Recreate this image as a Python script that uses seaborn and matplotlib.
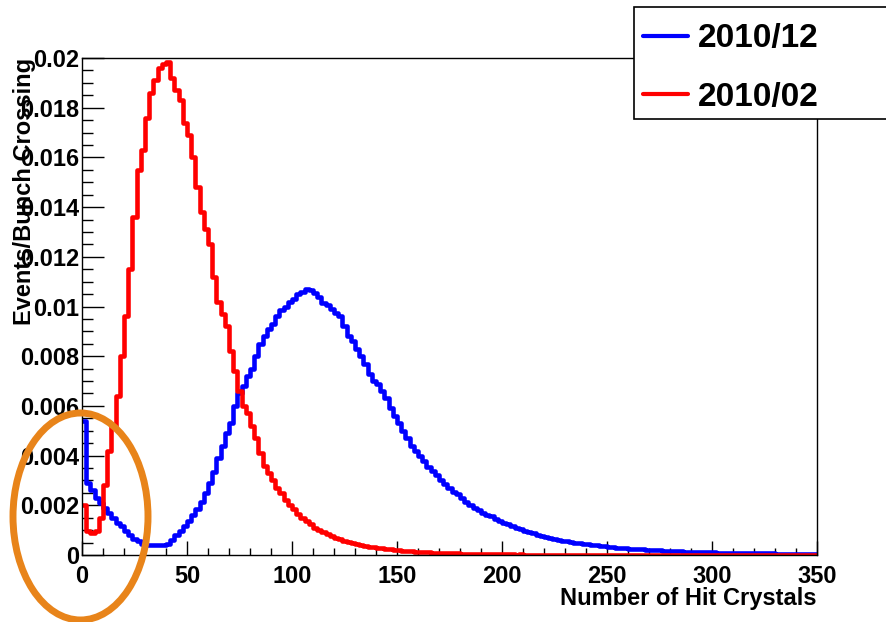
import numpy as np
import pandas as pd
import matplotlib
matplotlib.use("Agg")
import matplotlib.pyplot as plt
from matplotlib.patches import Rectangle, Ellipse
from matplotlib.ticker import MultipleLocator, FuncFormatter
import seaborn as sns

# ---------------- data ----------------
bin_width = 2
x_range = (0, 350)
bin_centers = np.arange(x_range[0] + bin_width / 2, x_range[1], bin_width)

series_labels = ["2010/12", "2010/02"]
series_colors = ["#0000FF", "#FF0000"]

feb_2010 = [
    0.00200, 0.00095, 0.00090, 0.00098, 0.00150, 0.00280, 0.00420, 0.00520, 0.00640, 0.00800,
    0.00960, 0.01150, 0.01360, 0.01550, 0.01630, 0.01760, 0.01860, 0.01910, 0.01960, 0.01975,
    0.01985, 0.01920, 0.01870, 0.01830, 0.01740, 0.01690, 0.01600, 0.01480, 0.01380, 0.01310,
    0.01250, 0.01120, 0.01020, 0.00970, 0.00920, 0.00820, 0.00740, 0.00660, 0.00600, 0.00570,
    0.00520, 0.00470, 0.00410, 0.00360, 0.00330, 0.00300, 0.00270, 0.00250, 0.00220, 0.00200,
    0.00185, 0.00165, 0.00150, 0.00135, 0.00125, 0.00110, 0.00100, 0.00092, 0.00085, 0.00078,
    0.00070, 0.00064, 0.00058, 0.00053, 0.00050, 0.00045, 0.00042, 0.00038, 0.00034, 0.00031,
    0.00029, 0.00027, 0.00025, 0.00023, 0.00021, 0.00020, 0.00018, 0.00017, 0.00016, 0.00014,
    0.00013, 0.00012, 0.00011, 0.00010, 0.00010, 0.00009, 0.00008, 0.00008, 0.00007, 0.00007,
    0.00006, 0.00006, 0.00005, 0.00005, 0.00005, 0.00004, 0.00004, 0.00004, 0.00003, 0.00003,
    0.00003, 0.00003, 0.00003, 0.00002, 0.00003, 0.00002, 0.00002, 0.00002, 0.00002, 0.00002,
    0.00002, 0.00002, 0.00001, 0.00002, 0.00001, 0.00002, 0.00001, 0.00001, 0.00001, 0.00001,
    0.00001, 0.00001, 0.00001, 0.00001, 0.00001, 0.00001, 0.00001, 0.00001, 0.00001, 0.00001,
    0.00001, 0.00001, 0.00001, 0.00001, 0.00001, 0.00001, 0.00001, 0.00001, 0.00001, 0.00001,
    0.00001, 0.00001, 0.00001, 0.00001, 0.00001, 0.00001, 0.00001, 0.00001, 0.00001, 0.00001,
    0.00001, 0.00001, 0.00001, 0.00001, 0.00001, 0.00001, 0.00001, 0.00001, 0.00001, 0.00001,
    0.00001, 0.00001, 0.00001, 0.00001, 0.00001, 0.00001, 0.00001, 0.00001, 0.00001, 0.00001,
    0.00001, 0.00001, 0.00001, 0.00001, 0.00001,
]

dec_2010 = [
    0.00540, 0.00290, 0.00260, 0.00230, 0.00210, 0.00190, 0.00170, 0.00150, 0.00130, 0.00115,
    0.00095, 0.00080, 0.00065, 0.00055, 0.00045, 0.00042, 0.00040, 0.00040, 0.00042, 0.00040,
    0.00045, 0.00060, 0.00080, 0.00095, 0.00115, 0.00135, 0.00160, 0.00185, 0.00215, 0.00250,
    0.00290, 0.00335, 0.00390, 0.00440, 0.00490, 0.00530, 0.00600, 0.00650, 0.00680, 0.00720,
    0.00750, 0.00800, 0.00850, 0.00880, 0.00910, 0.00930, 0.00960, 0.00985, 0.01000, 0.01020,
    0.01030, 0.01050, 0.01060, 0.01070, 0.01065, 0.01055, 0.01040, 0.01015, 0.01005, 0.00990,
    0.00975, 0.00960, 0.00920, 0.00880, 0.00860, 0.00830, 0.00800, 0.00770, 0.00730, 0.00700,
    0.00690, 0.00660, 0.00630, 0.00590, 0.00560, 0.00530, 0.00500, 0.00470, 0.00440, 0.00420,
    0.00400, 0.00380, 0.00355, 0.00340, 0.00320, 0.00300, 0.00285, 0.00270, 0.00255, 0.00245,
    0.00230, 0.00215, 0.00200, 0.00190, 0.00180, 0.00170, 0.00160, 0.00155, 0.00145, 0.00138,
    0.00130, 0.00123, 0.00117, 0.00110, 0.00103, 0.00098, 0.00093, 0.00088, 0.00082, 0.00078,
    0.00073, 0.00068, 0.00065, 0.00062, 0.00058, 0.00055, 0.00052, 0.00050, 0.00047, 0.00045,
    0.00043, 0.00041, 0.00039, 0.00037, 0.00035, 0.00033, 0.00032, 0.00030, 0.00029, 0.00027,
    0.00026, 0.00025, 0.00024, 0.00023, 0.00022, 0.00021, 0.00020, 0.00019, 0.00018, 0.00017,
    0.00016, 0.00016, 0.00015, 0.00014, 0.00014, 0.00013, 0.00013, 0.00012, 0.00012, 0.00011,
    0.00011, 0.00010, 0.00010, 0.00010, 0.00009, 0.00009, 0.00009, 0.00008, 0.00008, 0.00008,
    0.00008, 0.00007, 0.00007, 0.00007, 0.00007, 0.00006, 0.00006, 0.00006, 0.00006, 0.00006,
    0.00005, 0.00005, 0.00005, 0.00005, 0.00005,
]

x_label = "Number of Hit Crystals"
y_label = "Events/Bunch Crossing"

# ---------------- plot ----------------
sns.set_theme(style="white")
plt.rcParams["font.family"] = ["Liberation Sans", "DejaVu Sans"]
plt.rcParams["font.weight"] = "bold"
plt.rcParams["text.color"] = "black"
plt.rcParams["axes.labelcolor"] = "black"
plt.rcParams["xtick.color"] = "black"
plt.rcParams["ytick.color"] = "black"

W, H = 887, 622
fig = plt.figure(figsize=(W / 100, H / 100), dpi=100)
ax = fig.add_axes([82 / W, 1 - 555 / H, (817 - 82) / W, (555 - 58) / H])

for vals, lab, col in zip([dec_2010, feb_2010], series_labels, series_colors):
    df = pd.DataFrame({"x": bin_centers, "w": vals})
    sns.histplot(data=df, x="x", weights="w", binwidth=bin_width, binrange=x_range,
                 element="step", fill=False, color=col, linewidth=3.3, ax=ax, label=lab)

ax.set_xlim(*x_range)
ax.set_ylim(0, 0.02)

for sp in ax.spines.values():
    sp.set_color("black")
    sp.set_linewidth(1.0)
    sp.set_visible(True)

ax.xaxis.set_major_locator(MultipleLocator(50))
ax.xaxis.set_minor_locator(MultipleLocator(10))
ax.yaxis.set_major_locator(MultipleLocator(0.002))
ax.yaxis.set_minor_locator(MultipleLocator(0.0005))
ax.yaxis.set_major_formatter(FuncFormatter(lambda v, p: "%g" % round(v, 6)))
ax.xaxis.set_major_formatter(FuncFormatter(lambda v, p: "%g" % v))

ax.tick_params(axis="x", which="major", direction="in", length=10, width=1,
               color="black", labelsize=17, pad=7, bottom=True, top=False)
ax.tick_params(axis="x", which="minor", direction="in", length=5, width=1,
               color="black", bottom=True, top=False)
ax.tick_params(axis="y", which="major", direction="in", length=16, width=1,
               color="black", labelsize=17, pad=2, left=True, right=False)
ax.tick_params(axis="y", which="minor", direction="in", length=8, width=1,
               color="black", left=True, right=False)
for t in ax.get_xticklabels() + ax.get_yticklabels():
    t.set_fontweight("bold")
    t.set_color("black")

ax.set_xlabel(x_label, fontsize=17, fontweight="bold", color="black",
              ha="right", va="center")
ax.xaxis.set_label_coords(1.0, -0.087)
ax.set_ylabel(y_label, fontsize=17, fontweight="bold", color="black",
              ha="right", va="center")
ax.yaxis.set_label_coords(-0.078, 1.0)
ax.grid(False)

# legend box (extends beyond the right edge as in the reference)
fig.patches.append(Rectangle((634 / W, 1 - 119 / H), 270 / W, 112 / H,
                             transform=fig.transFigure, facecolor="white",
                             edgecolor="black", linewidth=1.2, zorder=4))
handles, labels = ax.get_legend_handles_labels()
leg = fig.legend(handles, labels, loc="upper left",
                 bbox_to_anchor=(643 / W, 1 - 23.5 / H), frameon=False,
                 prop={"weight": "bold", "size": 24, "family": "Liberation Sans"},
                 handlelength=1.35, handletextpad=0.3, labelspacing=0.82,
                 borderpad=0, borderaxespad=0)
leg.set_zorder(5)
for txt in leg.get_texts():
    txt.set_color("black")
for lh in leg.get_lines():
    lh.set_linewidth(3.0)

# orange highlight ellipse
fig.patches.append(Ellipse((80.5 / W, 1 - 516.5 / H), 135 / W, 207 / H,
                           transform=fig.transFigure, facecolor="none",
                           edgecolor="#E8841A", linewidth=5, zorder=6))

fig.savefig("out.png", dpi=100)
